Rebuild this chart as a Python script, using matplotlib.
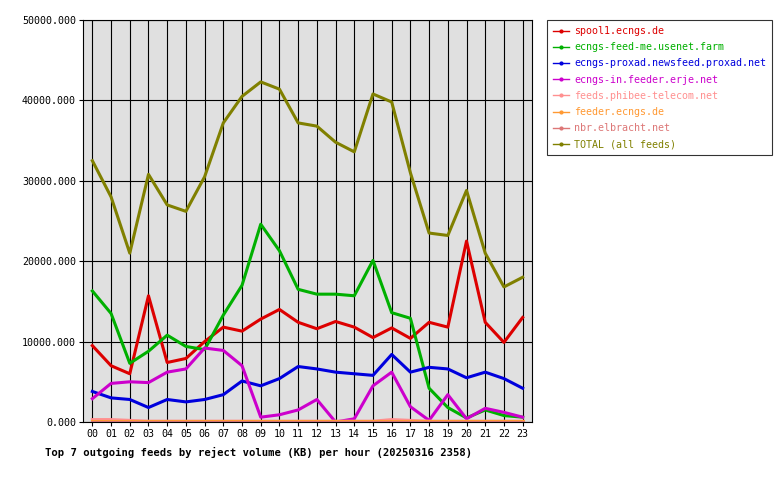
import matplotlib
matplotlib.use("Agg")
import matplotlib.pyplot as plt

hours = ["%02d" % h for h in range(24)]
total = [32500,28000,21000,30800,27000,26200,30500,37200,40500,42300,41400,37200,36800,34800,33600,40800,39800,31000,23500,23200,28800,21000,16800,18000]
spool1 = [9500,7000,6000,15700,7400,7900,10000,11800,11300,12800,14000,12400,11600,12500,11800,10500,11700,10400,12400,11800,22500,12400,9900,13000]
usenet_farm = [16300,13500,7300,8800,10800,9400,9000,13300,17000,24600,21300,16500,15900,15900,15700,20100,13600,12900,4200,1800,500,1500,800,600]
proxad = [3800,3000,2800,1800,2800,2500,2800,3400,5100,4500,5400,6900,6600,6200,6000,5800,8400,6200,6800,6600,5500,6200,5400,4200]
erje = [2900,4800,5000,4900,6200,6600,9200,8900,7000,600,900,1500,2800,0,400,4500,6200,1900,200,3400,400,1700,1200,600]
phibee = [300,300,200,100,100,100,100,100,100,100,100,100,100,100,100,100,300,200,100,100,100,100,100,100]
feeder = [100]*24
elbracht = [50]*24

series = [
    ("spool1.ecngs.de", spool1, "#dd0000"),
    ("ecngs-feed-me.usenet.farm", usenet_farm, "#00b000"),
    ("ecngs-proxad.newsfeed.proxad.net", proxad, "#0000dd"),
    ("ecngs-in.feeder.erje.net", erje, "#cc00cc"),
    ("feeds.phibee-telecom.net", phibee, "#ff9090"),
    ("feeder.ecngs.de", feeder, "#ff9933"),
    ("nbr.elbracht.net", elbracht, "#dd7777"),
    ("TOTAL (all feeds)", total, "#808000"),
]

plt.rcParams["font.family"] = "DejaVu Sans Mono"
fig = plt.figure(figsize=(7.8, 4.8), dpi=100)
ax = fig.add_axes([83/780, 1-422/480, (532-83)/780, (422-20)/480])
ax.set_facecolor("#e0e0e0")
x = list(range(24))
handles = []
for name, vals, col in series:
    ax.plot(x, vals, color=col, lw=2.2)
    h, = ax.plot([], [], color=col, lw=1, marker="o", ms=2, label=name)
    handles.append(h)
ax.set_xlim(-0.5, 23.5)
ax.set_ylim(0, 50000)
ax.set_xticks(x)
ax.set_xticklabels(hours, fontsize=7.2)
ax.set_yticks(range(0, 50001, 10000))
ax.set_yticklabels(["%d.000" % v for v in range(0, 50001, 10000)], fontsize=7.2)
ax.grid(True, color="black", lw=0.8)
ax.set_axisbelow(True)
ax.tick_params(length=3, pad=2)
fig.text(45/780, 1-452/480, "Top 7 outgoing feeds by reject volume (KB) per hour (20250316 2358)",
         fontsize=7.6, fontweight="bold", va="center")
leg = fig.legend(handles=handles, loc="upper left", bbox_to_anchor=(547/780, 1-20/480),
                 fontsize=7.2, labelcolor="linecolor", frameon=True, fancybox=False,
                 edgecolor="black", handlelength=1.6, handletextpad=0.5, borderpad=0.6,
                 labelspacing=0.62, borderaxespad=0)
leg.get_frame().set_linewidth(0.8)
fig.savefig("out.png", dpi=100)
